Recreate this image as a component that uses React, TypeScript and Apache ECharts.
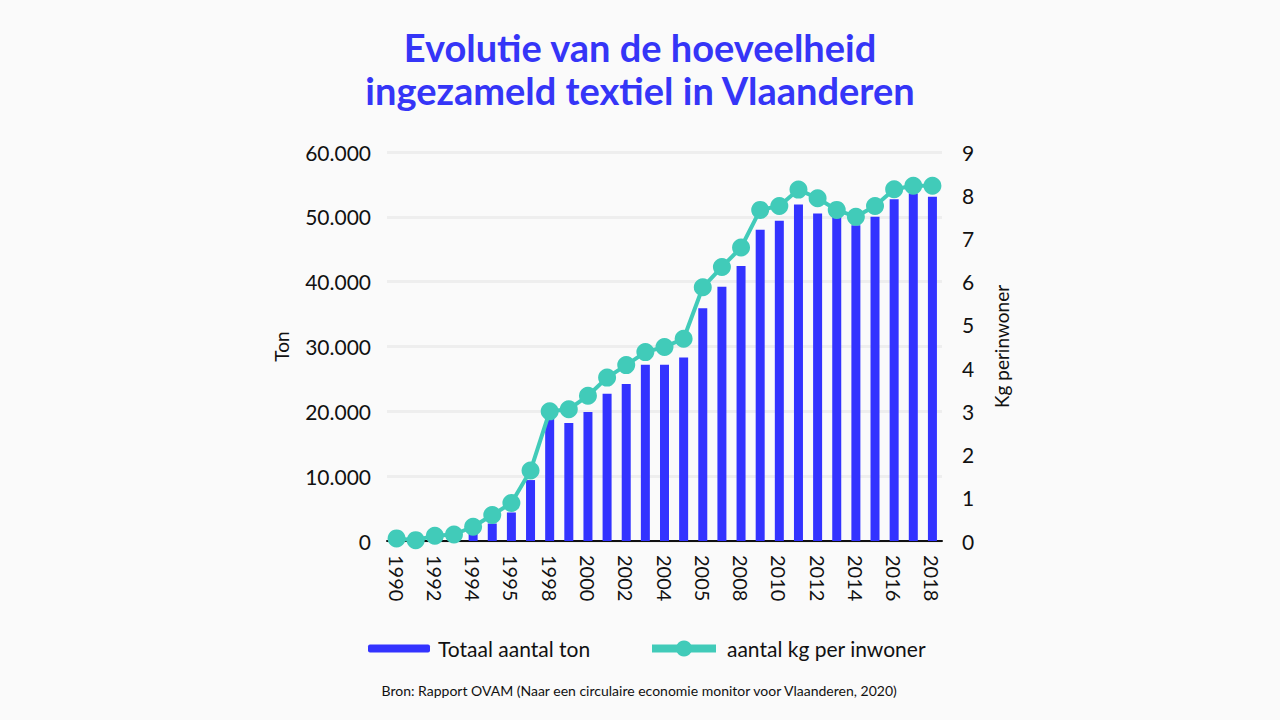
import React, { useEffect, useRef } from "react";
import * as echarts from "echarts";

const years = ["1990","1991","1992","1993","1994","1995","1996","1997","1998","1999","2000","2001","2002","2003","2004","2005","2006","2007","2008","2009","2010","2011","2012","2013","2014","2015","2016","2017","2018"];
// tick labels as printed in the source (every second year)
const tickLabels = ["1990","1992","1994","1995","1998","2000","2002","2004","2005","2008","2010","2012","2014","2016","2018"];
const totaalTon = [200, 150, 300, 600, 1100, 2700, 4400, 9400, 18800, 18200, 19900, 22700, 24200, 27200, 27200, 28300, 35900, 39200, 42400, 48000, 49400, 51900, 50500, 50000, 48700, 50000, 52700, 53600, 53100];
const kgPerInwoner = [0.06, 0.02, 0.12, 0.15, 0.33, 0.6, 0.88, 1.63, 3.0, 3.05, 3.36, 3.78, 4.07, 4.37, 4.49, 4.68, 5.87, 6.34, 6.79, 7.66, 7.75, 8.13, 7.93, 7.66, 7.5, 7.75, 8.14, 8.22, 8.22];

const FONT = "Lato, 'Open Sans', sans-serif";
const BLUE = "#3333FF";
const TEAL = "#41CBB9";

export default function App() {
  const ref = useRef<HTMLDivElement>(null);
  useEffect(() => {
    if (!ref.current) return;
    const chart = echarts.init(ref.current, null, { renderer: "svg" });
    chart.setOption({
      animation: false,
      backgroundColor: "#FAFAFA",
      textStyle: { fontFamily: FONT },
      title: {
        text: "Evolutie van de hoeveelheid\ningezameld textiel in Vlaanderen",
        left: "center",
        top: 20,
        textStyle: { fontFamily: FONT, fontSize: 38, fontWeight: "bold", color: "#3535F7", lineHeight: 43 },
      },
      grid: { left: 387, right: 338, top: 152, bottom: 179, containLabel: false },
      legend: [
        {
          data: ["Totaal aantal ton"],
          left: 368,
          top: 638,
          padding: 0,
          itemWidth: 62,
          itemHeight: 8,
          textStyle: { fontFamily: FONT, fontSize: 21, color: "#111", padding: [0, 0, 0, 3] },
        },
        {
          data: ["aantal kg per inwoner"],
          left: 648,
          top: 638,
          padding: 0,
          itemWidth: 64,
          itemHeight: 20,
          lineStyle: { width: 8 },
          textStyle: { fontFamily: FONT, fontSize: 21, color: "#111", padding: [0, 0, 0, 6] },
        },
      ],
      graphic: [
        {
          type: "text",
          left: "center",
          top: 683,
          style: {
            text: "Bron: Rapport OVAM (Naar een circulaire economie monitor voor Vlaanderen, 2020)",
            font: "14px " + FONT,
            fill: "#111",
          },
        },
      ],
      xAxis: {
        type: "category",
        data: years,
        axisLine: { lineStyle: { color: "#111", width: 2 } },
        axisTick: { show: false },
        axisLabel: {
          interval: 1,
          rotate: -90,
          margin: 14,
          fontSize: 20,
          color: "#111",
          fontFamily: FONT,
          formatter: (_v: string, i: number) => tickLabels[i / 2] ?? "",
        },
      },
      yAxis: [
        {
          type: "value",
          min: 0,
          max: 60000,
          interval: 10000,
          name: "Ton",
          nameLocation: "middle",
          nameRotate: 90,
          nameGap: 96,
          nameTextStyle: { fontFamily: FONT, fontSize: 19, color: "#111" },
          axisLine: { show: false },
          axisTick: { show: false },
          axisLabel: {
            margin: 16,
            fontSize: 21,
            color: "#111",
            fontFamily: FONT,
            padding: [0, 0, 6, 0],
            formatter: (v: number) => (v === 0 ? "0" : v.toLocaleString("de-DE")),
          },
          splitLine: { lineStyle: { color: "#EEEEEE", width: 3 } },
        },
        {
          type: "value",
          min: 0,
          max: 9,
          interval: 1,
          name: "Kg perinwoner",
          nameLocation: "middle",
          nameRotate: 90,
          nameGap: 50,
          nameTextStyle: { fontFamily: FONT, fontSize: 19, color: "#111" },
          axisLine: { show: false },
          axisTick: { show: false },
          axisLabel: { margin: 20, fontSize: 21, color: "#111", fontFamily: FONT, padding: [0, 0, 4, 0] },
          splitLine: { show: false },
        },
      ],
      series: [
        {
          name: "Totaal aantal ton",
          type: "bar",
          data: totaalTon,
          barWidth: 9,
          itemStyle: { color: BLUE },
          yAxisIndex: 0,
          z: 2,
        },
        {
          name: "aantal kg per inwoner",
          type: "line",
          data: kgPerInwoner,
          yAxisIndex: 1,
          symbol: "circle",
          symbolSize: 18,
          showAllSymbol: true,
          lineStyle: { color: TEAL, width: 4 },
          itemStyle: { color: TEAL },
          z: 3,
        },
      ],
    });
    return () => chart.dispose();
  }, []);
  return <div ref={ref} style={{ position: "fixed", left: 0, top: 0, width: 1280, height: 720 }} />;
}
